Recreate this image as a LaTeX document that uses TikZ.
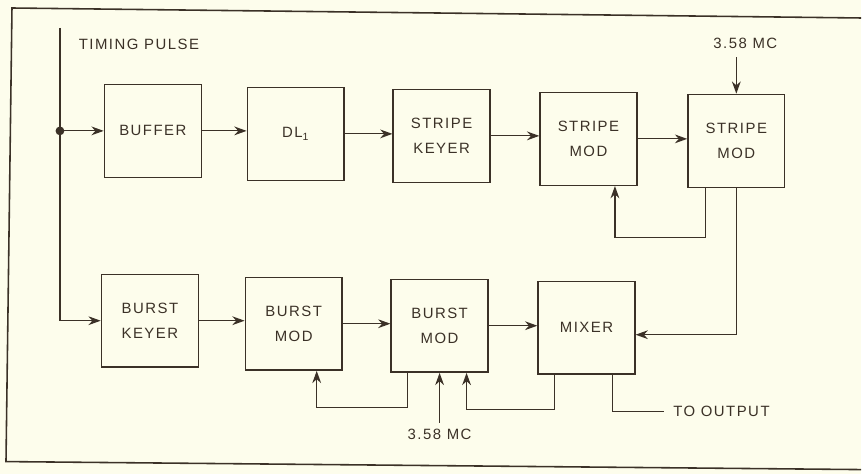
\documentclass[tikz,border=0pt]{standalone}
\usepackage{fontspec}
\setmainfont{Liberation Sans}
\newfontfamily\lblfont[LetterSpace=10]{Liberation Sans}
\newcommand{\lbl}{\lblfont\fontsize{8.5}{14}\selectfont}
\usetikzlibrary{arrows.meta,positioning}
\definecolor{paper}{HTML}{FDFDEC}
\definecolor{ink}{HTML}{3B3127}

\tikzset{
    blk/.style={draw=ink, line width=0.8pt, text=ink, minimum width=1.94cm,
        minimum height=1.86cm, align=center, inner sep=0pt, font=\lbl},
    tag/.style={text=ink, font=\lbl, inner sep=2pt},
    wire/.style={draw=ink, line width=0.7pt},
    sig/.style={wire, -{Stealth[length=7pt,width=5pt]}},
}

\begin{document}
\begin{tikzpicture}[x=0.02cm, y=-0.02cm]
            \fill[paper] (0,0) rectangle (862,474);
            \draw[ink, line width=0.9pt] (862,18) -- (12,8) -- (6,462) -- (862,470);

            % upper chain
            \node[blk] (buffer) at (153,131) {BUFFER};
            \node[blk] (dl) at (296,134) {DL\textsubscript{1}};
            \node[blk] (skeyer) at (442,136) {STRIPE\\KEYER};
            \node[blk] (smodA) at (589,139) {STRIPE\\MOD};
            \node[blk] (smodB) at (737,141) {STRIPE\\MOD};

            % lower chain
            \node[blk] (bkeyer) at (150,321) {BURST\\KEYER};
            \node[blk] (bmodA) at (294,324) {BURST\\MOD};
            \node[blk] (bmodB) at (440,326) {BURST\\MOD};
            \node[blk] (mixer) at (587,328) {MIXER};

            \node[tag, anchor=west] (pulse) at (75,44) {TIMING PULSE};
            \node[tag] (mcA) at (746,43) {3.58 MC};
            \node[tag] (mcB) at (440,435) {3.58 MC};
            \node[tag, anchor=west] (out) at (670,412) {TO OUTPUT};

            \coordinate (tp) at (60,28);
            \coordinate (tap) at (60,131);
            \coordinate (sfb) at (706,238);
            \coordinate (bfb) at (408,408);
            \coordinate (mfb) at (555,410);

            % timing pulse
            \draw[sig] (tp) |- (bkeyer.west);
            \draw[sig] (tap) -- (buffer.west);
            \fill[ink] (tap) circle (2.5pt);

            \draw[sig] (buffer.east) -- (buffer.east -| dl.west);
            \draw[sig] (dl.east) -- (dl.east -| skeyer.west);
            \draw[sig] (skeyer.east) -- (skeyer.east -| smodA.west);
            \draw[sig] (smodA.east) -- (smodA.east -| smodB.west);
            \draw[sig] ([yshift=-0.1cm]mcA.south -| smodB.north) -- (smodB.north);

            \draw[sig] (bkeyer.east) -- (bkeyer.east -| bmodA.west);
            \draw[sig] (bmodA.east) -- (bmodA.east -| bmodB.west);
            \draw[sig] (bmodB.east) -- (bmodB.east -| mixer.west);

            % feedback loops
            \draw[sig] (smodB.south -| sfb) -- (sfb) -| ([xshift=0.53cm]smodA.south);
            \draw[sig] (bmodB.south -| bfb) -- (bfb) -| ([xshift=0.46cm]bmodA.south);
            \draw[sig] (mixer.south -| mfb) -- (mfb) -| ([xshift=0.54cm]bmodB.south);
            \draw[sig] (smodB.south) |- ([yshift=-0.14cm]mixer.east);
            \draw[sig] ([yshift=0.05cm]mcB.north -| bmodB.south) -- (bmodB.south);
            \draw[wire] ([xshift=0.52cm]mixer.south) |- ([xshift=-0.1cm]out.west);
\end{tikzpicture}
\end{document}
